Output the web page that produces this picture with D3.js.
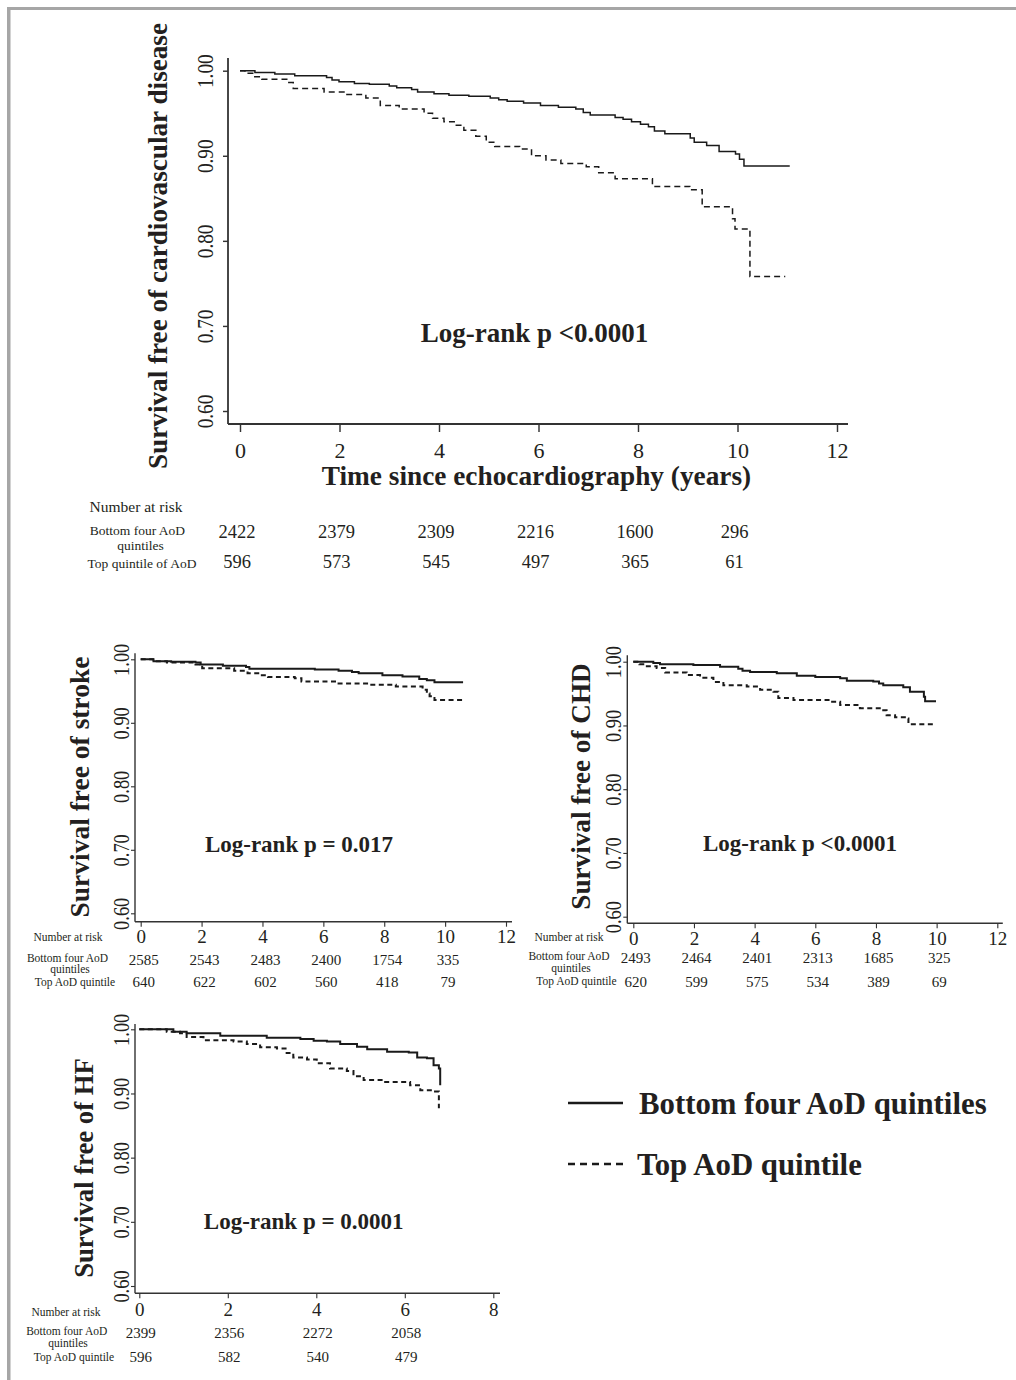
<!DOCTYPE html>
<html>
<head>
<meta charset="utf-8">
<title>Survival by AoD quintile</title>
<script src="https://d3js.org/d3.v7.min.js"></script>
<style>
  body { margin: 0; background: #fff; }
  svg { display: block; }
  text { font-family: 'Liberation Serif', 'Times New Roman', Times, serif; fill: #231f20; }
</style>
</head>
<body>
<svg id="chart" width="1016" height="1380"></svg>
<script>
// ---- data ----
const yTicks = [1.00, 0.90, 0.80, 0.70, 0.60];
const xTicks12 = [0, 2, 4, 6, 8, 10, 12];
const xTicks8 = [0, 2, 4, 6, 8];
const riskTimes = [0, 2, 4, 6, 8, 10];
const riskTimesHF = [0, 2, 4, 6];

// cardiovascular disease
const cvdBottomT = [0, 0.3, 0.7, 1.1, 1.74, 1.85, 1.99, 2.3, 2.6, 3.0, 3.15, 3.45, 3.57, 3.9, 4.2, 4.6, 5.03, 5.2, 5.37, 5.7, 6.04, 6.4, 6.75, 6.9, 7.04, 7.54, 7.7, 7.87, 8.05, 8.21, 8.33, 8.54, 9.05, 9.13, 9.38, 9.63, 9.96, 10.04, 10.13, 11.05];
const cvdBottomS = [1.000, 0.998, 0.996, 0.994, 0.992, 0.989, 0.987, 0.985, 0.984, 0.982, 0.980, 0.978, 0.975, 0.973, 0.971, 0.970, 0.968, 0.966, 0.964, 0.962, 0.959, 0.957, 0.955, 0.951, 0.948, 0.945, 0.943, 0.940, 0.937, 0.934, 0.929, 0.926, 0.921, 0.916, 0.912, 0.905, 0.902, 0.896, 0.888, 0.888];
const cvdTopT = [0, 0.1, 0.28, 0.44, 0.94, 1.07, 1.69, 2.11, 2.53, 2.82, 3.2, 3.7, 3.87, 4.1, 4.33, 4.5, 4.74, 4.95, 5.12, 5.62, 5.86, 6.15, 6.45, 6.96, 7.21, 7.54, 8.29, 9.04, 9.29, 9.9, 9.95, 10.25, 10.96];
const cvdTopS = [1.000, 0.997, 0.993, 0.990, 0.986, 0.979, 0.975, 0.972, 0.968, 0.959, 0.955, 0.950, 0.944, 0.940, 0.936, 0.930, 0.923, 0.916, 0.911, 0.908, 0.900, 0.895, 0.891, 0.887, 0.880, 0.873, 0.864, 0.860, 0.840, 0.826, 0.814, 0.758, 0.758];
const cvdRiskBottom = [2422, 2379, 2309, 2216, 1600, 296];
const cvdRiskTop = [596, 573, 545, 497, 365, 61];

// stroke
const strokeBottomT = [0, 0.42, 1.0, 1.8, 1.97, 2.7, 3.46, 3.57, 5.0, 5.72, 6.5, 6.94, 7.16, 7.94, 8.6, 9.15, 9.4, 9.65, 10.59];
const strokeBottomS = [1.000, 0.997, 0.996, 0.995, 0.992, 0.990, 0.988, 0.985, 0.985, 0.984, 0.982, 0.980, 0.978, 0.975, 0.973, 0.969, 0.967, 0.964, 0.964];
const strokeTopT = [0, 0.4, 0.86, 1.8, 2.02, 3.07, 3.51, 3.9, 4.18, 5.06, 5.28, 6.5, 7.5, 8.38, 9.26, 9.4, 9.49, 9.65, 10.59];
const strokeTopS = [1.000, 0.997, 0.995, 0.992, 0.986, 0.982, 0.978, 0.975, 0.972, 0.970, 0.965, 0.962, 0.960, 0.957, 0.952, 0.946, 0.942, 0.936, 0.936];
const strokeRiskBottom = [2585, 2543, 2483, 2400, 1754, 335];
const strokeRiskTop = [640, 622, 602, 560, 418, 79];

// coronary heart disease
const chdBottomT = [0, 0.66, 0.88, 1.98, 2.86, 3.46, 3.6, 3.85, 4.73, 5.39, 6.0, 6.82, 7.04, 7.91, 8.1, 8.24, 8.9, 9.12, 9.58, 9.62, 9.98];
const chdBottomS = [1.000, 0.998, 0.996, 0.995, 0.992, 0.989, 0.986, 0.984, 0.982, 0.978, 0.976, 0.974, 0.970, 0.969, 0.966, 0.963, 0.960, 0.953, 0.945, 0.938, 0.938];
const chdTopT = [0, 0.2, 0.39, 0.77, 1.05, 1.76, 2.2, 2.64, 2.97, 3.74, 4.18, 4.62, 4.78, 5.28, 6.49, 6.82, 7.47, 8.24, 8.35, 8.63, 9.01, 9.07, 9.98];
const chdTopS = [1.000, 0.996, 0.993, 0.990, 0.983, 0.979, 0.975, 0.968, 0.963, 0.961, 0.956, 0.953, 0.943, 0.940, 0.937, 0.932, 0.927, 0.924, 0.916, 0.913, 0.911, 0.902, 0.902];
const chdRiskBottom = [2493, 2464, 2401, 2313, 1685, 325];
const chdRiskTop = [620, 599, 575, 534, 389, 69];

// heart failure
const hfBottomT = [0, 0.77, 1.07, 1.83, 2.88, 3.64, 3.94, 4.24, 4.54, 4.92, 5.15, 5.6, 6.09, 6.28, 6.5, 6.65, 6.77, 6.8];
const hfBottomS = [1.000, 0.996, 0.994, 0.990, 0.987, 0.985, 0.982, 0.981, 0.977, 0.973, 0.969, 0.965, 0.964, 0.956, 0.955, 0.944, 0.939, 0.913];
const hfTopT = [0, 0.62, 0.92, 1.07, 1.45, 2.13, 2.43, 2.73, 3.11, 3.33, 3.48, 3.79, 4.01, 4.31, 4.69, 4.84, 5.07, 5.52, 6.12, 6.35, 6.65, 6.77];
const hfTopS = [1.000, 0.996, 0.994, 0.988, 0.983, 0.981, 0.977, 0.972, 0.970, 0.963, 0.956, 0.953, 0.947, 0.939, 0.935, 0.927, 0.921, 0.918, 0.913, 0.905, 0.903, 0.877];
const hfRiskBottom = [2399, 2356, 2272, 2058];
const hfRiskTop = [596, 582, 540, 479];

const legendLabels = ["Bottom four AoD quintiles", "Top AoD quintile"];

// ---- drawing ----
const svg = d3.select("#chart");
const ink = "#231f20";
const axisInk = "#333";

// grey frame (top and left edge)
svg.append("rect").attr("x", 7).attr("y", 7).attr("width", 1009).attr("height", 3).attr("fill", "#a6a6a6");
svg.append("rect").attr("x", 7).attr("y", 7).attr("width", 3.5).attr("height", 1373).attr("fill", "#a6a6a6");

function panel(c) {
  const x = d3.scaleLinear().domain([0, c.xMax]).range(c.xRange);
  const y = d3.scaleLinear().domain([0.6, 1.0]).range(c.yRange);
  const g = svg.append("g");
  const axisX = x(0) - c.gapLeft;
  const axisY = y(0.6) + c.gapBottom;

  // axis lines
  g.append("line").attr("x1", axisX).attr("x2", axisX)
    .attr("y1", y(1) - c.gapTop).attr("y2", axisY)
    .attr("stroke", axisInk).attr("stroke-width", c.axisW);
  g.append("line").attr("x1", axisX).attr("x2", x(c.xMax) + c.gapRight)
    .attr("y1", axisY).attr("y2", axisY)
    .attr("stroke", axisInk).attr("stroke-width", c.axisW);

  // y axis ticks + rotated, condensed labels
  const ya = g.append("g").attr("transform", `translate(${axisX},0)`)
    .call(d3.axisLeft(y).tickValues(yTicks).tickSize(c.yTick).tickFormat(d3.format(".2f")));
  ya.select(".domain").remove();
  ya.selectAll(".tick line").attr("stroke", axisInk).attr("stroke-width", c.axisW * 0.8);
  ya.selectAll(".tick text")
    .attr("x", 0).attr("y", 0).attr("dy", "0.35em")
    .attr("text-anchor", "middle")
    .attr("transform", `translate(${-c.yLabelOff},0) rotate(-90) scale(0.8,1)`)
    .style("font-family", "'Liberation Serif','Times New Roman',serif")
    .style("font-size", c.yTickFont + "px").attr("fill", ink);

  // x axis
  const xa = g.append("g").attr("transform", `translate(0,${axisY})`)
    .call(d3.axisBottom(x).tickValues(c.xTicks).tickSize(c.xTick).tickFormat(d3.format("d")));
  xa.select(".domain").remove();
  xa.selectAll(".tick line").attr("stroke", axisInk).attr("stroke-width", c.axisW * 0.8);
  xa.selectAll(".tick text")
    .attr("y", c.xLabelOff).attr("dy", "0.35em")
    .style("font-family", "'Liberation Serif','Times New Roman',serif")
    .style("font-size", c.xTickFont + "px").attr("fill", ink);

  // survival curves
  const line = d3.line().x(d => x(d[0])).y(d => y(d[1])).curve(d3.curveStepAfter);
  g.append("path").datum(d3.zip(c.bottomT, c.bottomS))
    .attr("d", line).attr("fill", "none").attr("stroke", "#1a1a1a")
    .attr("stroke-width", c.curveW);
  g.append("path").datum(d3.zip(c.topT, c.topS))
    .attr("d", line).attr("fill", "none").attr("stroke", "#1a1a1a")
    .attr("stroke-width", c.curveW).attr("stroke-dasharray", c.dash);

  // y title
  g.append("text")
    .attr("transform", `translate(${c.titleX},${c.titleY}) rotate(-90)`)
    .attr("text-anchor", "middle").attr("font-weight", "bold")
    .style("font-size", c.titleFont + "px").text(c.title);

  // log-rank
  g.append("text").attr("x", c.pX).attr("y", c.pY)
    .attr("text-anchor", "middle").attr("font-weight", "bold")
    .style("font-size", c.pFont + "px").text(c.pText);

  // number at risk
  c.riskLabels.forEach(l => {
    g.append("text").attr("x", l.x).attr("y", l.y).attr("text-anchor", "middle")
      .style("font-size", l.size + "px").text(l.text);
  });
  [[c.riskBottom, c.riskY1], [c.riskTop, c.riskY2]].forEach(([vals, yy]) => {
    g.selectAll(null).data(vals).enter().append("text")
      .attr("x", (d, i) => x(c.riskT[i]) + c.riskShift)
      .attr("y", yy).attr("text-anchor", "middle")
      .style("font-size", c.riskFont + "px").text(d => d);
  });
  return { x, y };
}

// top: cardiovascular disease
panel({
  xMax: 12, xRange: [240, 837], yRange: [411, 70.7], xTicks: xTicks12,
  gapLeft: 12, gapBottom: 13, gapTop: 12.7, gapRight: 11,
  axisW: 1.8, yTick: 5, xTick: 8, yLabelOff: 23, xLabelOff: 26,
  yTickFont: 24, xTickFont: 22, curveW: 1.5, dash: "6,4",
  bottomT: cvdBottomT, bottomS: cvdBottomS, topT: cvdTopT, topS: cvdTopS,
  title: "Survival free of cardiovascular disease", titleX: 166.5, titleY: 246, titleFont: 27.2,
  pText: "Log-rank p <0.0001", pX: 534.5, pY: 342, pFont: 27,
  riskT: riskTimes, riskBottom: cvdRiskBottom, riskTop: cvdRiskTop,
  riskY1: 538, riskY2: 568, riskFont: 18.5, riskShift: -3,
  riskLabels: [
    { text: "Number at risk", x: 136, y: 512, size: 15.5 },
    { text: "Bottom four AoD", x: 137.5, y: 535, size: 13.5 },
    { text: "quintiles", x: 140.5, y: 550, size: 13.5 },
    { text: "Top quintile of AoD", x: 142, y: 568, size: 13.5 }
  ]
});

// x axis title for the top panel
svg.append("text").attr("x", 536.5).attr("y", 485).attr("text-anchor", "middle")
  .attr("font-weight", "bold").style("font-size", "27.3px")
  .text("Time since echocardiography (years)");

// stroke
panel({
  xMax: 12, xRange: [140.7, 506], yRange: [913.3, 659.3], xTicks: xTicks12,
  gapLeft: 5.7, gapBottom: 8.4, gapTop: 6, gapRight: 6,
  axisW: 1.4, yTick: 4, xTick: 5, yLabelOff: 14, xLabelOff: 15,
  yTickFont: 23, xTickFont: 19, curveW: 2, dash: "5,3.5",
  bottomT: strokeBottomT, bottomS: strokeBottomS, topT: strokeTopT, topS: strokeTopS,
  title: "Survival free of stroke", titleX: 89, titleY: 787, titleFont: 27.5,
  pText: "Log-rank p = 0.017", pX: 299, pY: 852, pFont: 23,
  riskT: riskTimes, riskBottom: strokeRiskBottom, riskTop: strokeRiskTop,
  riskY1: 965, riskY2: 986.5, riskFont: 15, riskShift: 3,
  riskLabels: [
    { text: "Number at risk", x: 68, y: 941, size: 11.5 },
    { text: "Bottom four AoD", x: 67.5, y: 962, size: 11.5 },
    { text: "quintiles", x: 70, y: 973, size: 11.5 },
    { text: "Top AoD quintile", x: 75, y: 985.5, size: 11.5 }
  ]
});

// CHD
panel({
  xMax: 12, xRange: [633.3, 997.3], yRange: [916.7, 661.7], xTicks: xTicks12,
  gapLeft: 6, gapBottom: 6.6, gapTop: 6.5, gapRight: 5.5,
  axisW: 1.4, yTick: 4, xTick: 5, yLabelOff: 14.8, xLabelOff: 14.7,
  yTickFont: 23, xTickFont: 19, curveW: 2, dash: "5,3.5",
  bottomT: chdBottomT, bottomS: chdBottomS, topT: chdTopT, topS: chdTopS,
  title: "Survival free of CHD", titleX: 590, titleY: 786.5, titleFont: 27.2,
  pText: "Log-rank p <0.0001", pX: 800, pY: 851, pFont: 23,
  riskT: riskTimes, riskBottom: chdRiskBottom, riskTop: chdRiskTop,
  riskY1: 963, riskY2: 986.5, riskFont: 15, riskShift: 2.5,
  riskLabels: [
    { text: "Number at risk", x: 569, y: 941, size: 11.5 },
    { text: "Bottom four AoD", x: 569, y: 960, size: 11.5 },
    { text: "quintiles", x: 571, y: 971.5, size: 11.5 },
    { text: "Top AoD quintile", x: 576.5, y: 985, size: 11.5 }
  ]
});

// HF
panel({
  xMax: 8, xRange: [139.3, 493.3], yRange: [1286, 1029.3], xTicks: xTicks8,
  gapLeft: 4.3, gapBottom: 7.3, gapTop: 5.3, gapRight: 6.7,
  axisW: 1.4, yTick: 4, xTick: 5, yLabelOff: 14, xLabelOff: 15.7,
  yTickFont: 23, xTickFont: 19, curveW: 2, dash: "5,3.5",
  bottomT: hfBottomT, bottomS: hfBottomS, topT: hfTopT, topS: hfTopS,
  title: "Survival free of HF", titleX: 93, titleY: 1168, titleFont: 26.7,
  pText: "Log-rank p = 0.0001", pX: 303.7, pY: 1229.3, pFont: 23,
  riskT: riskTimesHF, riskBottom: hfRiskBottom, riskTop: hfRiskTop,
  riskY1: 1338, riskY2: 1361.5, riskFont: 15, riskShift: 1.5,
  riskLabels: [
    { text: "Number at risk", x: 66, y: 1316, size: 11.5 },
    { text: "Bottom four AoD", x: 66.7, y: 1335, size: 11.5 },
    { text: "quintiles", x: 68, y: 1346.5, size: 11.5 },
    { text: "Top AoD quintile", x: 74, y: 1361, size: 11.5 }
  ]
});

// legend
const legend = svg.append("g");
const legendRows = [
  { label: legendLabels[0], lineY: 1103, textX: 639, textY: 1114, dash: null },
  { label: legendLabels[1], lineY: 1164, textX: 637, textY: 1175, dash: "7,5" }
];
legendRows.forEach(r => {
  legend.append("line").attr("x1", 568).attr("x2", 623).attr("y1", r.lineY).attr("y2", r.lineY)
    .attr("stroke", "#1a1a1a").attr("stroke-width", 2.5)
    .attr("stroke-dasharray", r.dash);
  legend.append("text").attr("x", r.textX).attr("y", r.textY)
    .attr("font-weight", "bold").style("font-size", "30.8px").text(r.label);
});
</script>
</body>
</html>
